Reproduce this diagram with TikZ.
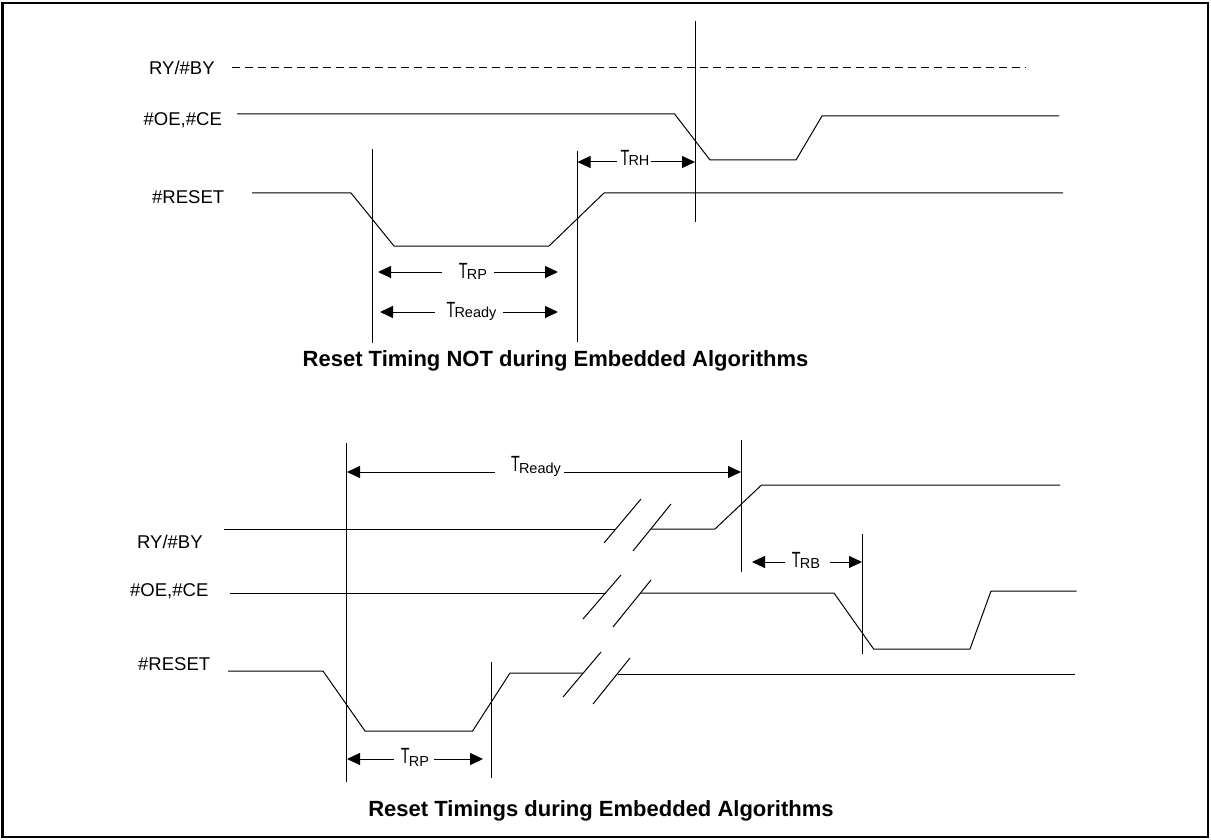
\documentclass[tikz,border=0pt]{standalone}
\usepackage{fontspec}
\setmainfont{Liberation Sans}
\usepackage{graphicx}
\usetikzlibrary{arrows.meta}
% timing label: narrow T followed by smaller suffix, lowered by #2 pt
\newcommand{\tsym}[2]{{\fontsize{22}{22}\selectfont\scalebox{0.65}[1]{T}}\kern-0.8pt\raisebox{-#2pt}{\fontsize{14.5}{15}\selectfont #1}}
\tikzset{
  sig/.style={line width=1pt, line join=miter},
  vline/.style={line width=1pt},
  dimarrow/.style={line width=1pt, -{Triangle[length=13pt,width=12pt]}},
  lab/.style={font=\fontsize{18.5}{20}\selectfont, anchor=base west, inner sep=0pt},
  ttl/.style={font=\bfseries\fontsize{22}{24}\selectfont, anchor=base, inner sep=0pt},
  tl/.style={anchor=base, inner sep=0pt}
}
\begin{document}
\begin{tikzpicture}[x=1pt,y=-1pt]
\useasboundingbox (0,0) rectangle (1211,840);
\draw[line width=2.6pt] (2.5,3) rectangle (1208,837);

% ================= TOP DIAGRAM =================
\node[lab] (rylabA) at (149,74.6) {RY/\#BY};
\node[lab] (oelabA) at (143.5,125.6) {\#OE,\#CE};
\node[lab] (rslabA) at (152,203.6) {\#RESET};

% verticals
\coordinate (vA1t) at (372,149); \coordinate (vA1b) at (372,343);
\coordinate (vA2t) at (577,151); \coordinate (vA2b) at (577,342);
\coordinate (vA3t) at (695.5,21); \coordinate (vA3b) at (695.5,222);
\draw[vline] (vA1t) -- (vA1b);
\draw[vline] (vA2t) -- (vA2b);
\draw[vline] (vA3t) -- (vA3b);

% signals
\draw[sig, dash pattern=on 8pt off 5pt] (231.5,68) -- (1025,68);
\draw[sig] (237,114) -- (674.6,114) -- (710,160) -- (796,160) -- (822,116) -- (1059,116);
\draw[sig] (252,193) -- (351,193) -- (394,246) -- (549,246) -- (604,193) -- (1063,193);

% T_RH
\node[tl] (trh) at (635,166) {\tsym{RH}{0}};
\draw[dimarrow] (617,162) -- (577.5,162);
\draw[dimarrow] (651,162) -- (695,162);
% T_RP
\node[tl] (trpA) at (473,278) {\tsym{RP}{1.5}};
\draw[dimarrow] (442,272) -- (378,272);
\draw[dimarrow] (494,272) -- (558,272);
% T_Ready
\node[tl] (trdA) at (471.5,317) {\tsym{Ready}{0}};
\draw[dimarrow] (435,312) -- (380,312);
\draw[dimarrow] (503,312) -- (558,312);

\node[ttl] (ttlA) at (555.5,366) {Reset Timing NOT during Embedded Algorithms};

% ================= BOTTOM DIAGRAM =================
\node[lab] (rylabB) at (137,548.6) {RY/\#BY};
\node[lab] (oelabB) at (130,596.6) {\#OE,\#CE};
\node[lab] (rslabB) at (138,670.6) {\#RESET};

\coordinate (vB1t) at (346.5,443); \coordinate (vB1b) at (346.5,782);
\coordinate (vB2t) at (741.5,440); \coordinate (vB2b) at (741.5,572);
\coordinate (vB3t) at (862,534); \coordinate (vB3b) at (862,654);
\coordinate (vB4t) at (491,662); \coordinate (vB4b) at (491,778);
\draw[vline] (vB1t) -- (vB1b);
\draw[vline] (vB2t) -- (vB2b);
\draw[vline] (vB3t) -- (vB3b);
\draw[vline] (vB4t) -- (vB4b);

% RY/#BY
\draw[sig] (224,529) -- (616,529);
\draw[sig] (604,543) -- (641,499);
\draw[sig] (633,551) -- (671,504);
\draw[sig] (651,529) -- (715,529) -- (761.5,485) -- (1060,485);
% #OE,#CE
\draw[sig] (230,593) -- (605.5,593);
\draw[sig] (583,619) -- (621,575);
\draw[sig] (613,627) -- (651,580);
\draw[sig] (640.5,593) -- (834,593) -- (873.6,649) -- (970,649) -- (991,591) -- (1076.5,591);
% #RESET
\draw[sig] (228,671) -- (323,671) -- (365,731) -- (472.6,731) -- (510,673) -- (583,673);
\draw[sig] (563,697) -- (601,652);
\draw[sig] (593,704) -- (630,658);
\draw[sig] (618,674) -- (1074.5,674);

% T_Ready
\node[tl] (trdB) at (536,471.7) {\tsym{Ready}{2}};
\draw[dimarrow] (495,472) -- (347,472);
\draw[dimarrow] (564,472) -- (741,472);
% T_RB
\node[tl] (trb) at (806,567) {\tsym{RB}{1.5}};
\draw[dimarrow] (785,562) -- (752,562);
\draw[dimarrow] (830,562) -- (862,562);
% T_RP
\node[tl] (trpB) at (415,763) {\tsym{RP}{3}};
\draw[dimarrow] (394,759) -- (347,759);
\draw[dimarrow] (434,759) -- (483,759);

\node[ttl] (ttlB) at (601,816) {Reset Timings during Embedded Algorithms};
\end{tikzpicture}
\end{document}
